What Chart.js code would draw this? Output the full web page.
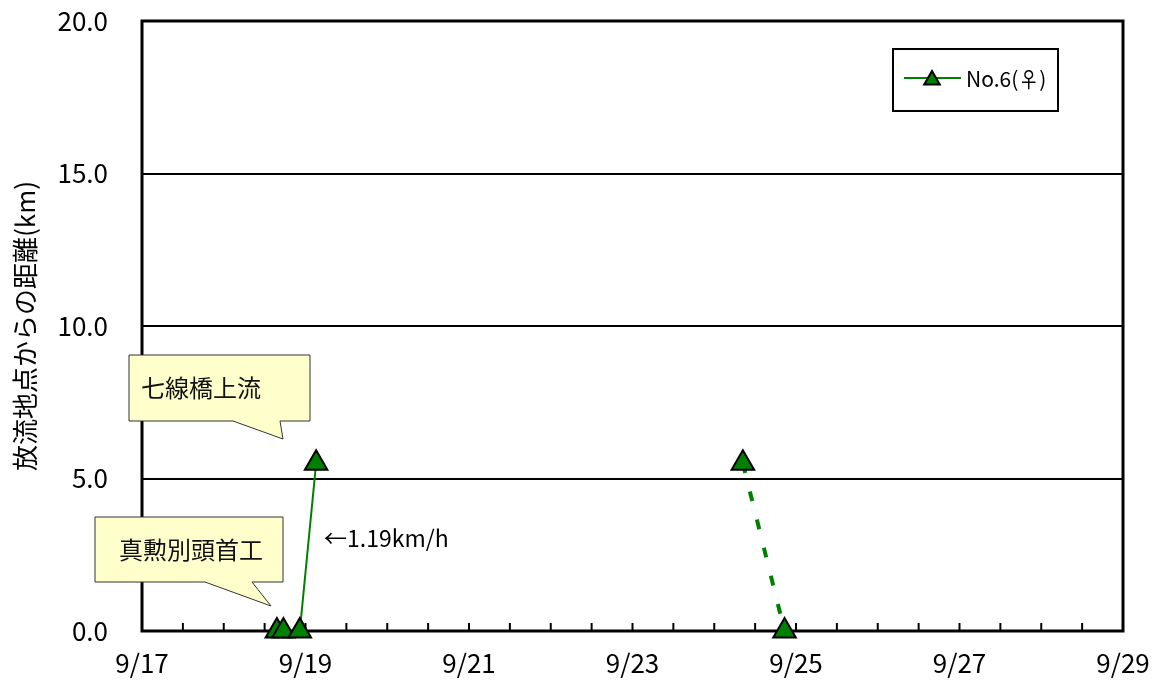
<!DOCTYPE html>
<html>
<head>
<meta charset="utf-8">
<script src="https://cdn.jsdelivr.net/npm/chart.js@4"></script>
<style>
    html, body { margin: 0; padding: 0; background: #fff; }
    #wrap { width: 1162px; height: 684px; }
</style>
</head>
<body>
<div id="wrap"><canvas id="chart" width="1162" height="684"></canvas></div>
<script>
// day of September (fractional) and distance from release point (km)
const seriesName = "No.6(♀)";
const trackDays = [18.65, 18.73, 18.93, 19.13];
const trackKm = [0, 0, 0, 5.5];
const lostDays = [24.35, 24.86];
const lostKm = [5.5, 0];
const labelDays = [17, 19, 21, 23, 25, 27, 29];
const yTicks = [0, 5, 10, 15, 20];

const GREEN = "#008000";
const JP = '"Noto Sans CJK JP", "Noto Sans", sans-serif';

const toPoints = (xs, ys) => xs.map((x, i) => ({ x, y: ys[i] }));

// frame + small inward ticks every half day
const framePlugin = {
    id: "frame",
    beforeDatasetsDraw(chart) {
        const { ctx, chartArea: a } = chart;
        const xs = chart.scales.x;
        ctx.save();
        ctx.strokeStyle = "#000";
        ctx.lineWidth = 2;
        xs.ticks.forEach(t => {
            const px = xs.getPixelForValue(t.value);
            ctx.beginPath();
            ctx.moveTo(px, a.bottom);
            ctx.lineTo(px, a.bottom - 8);
            ctx.stroke();
        });
        ctx.lineWidth = 3;
        ctx.strokeRect(a.left, a.top, a.right - a.left, a.bottom - a.top);
        ctx.restore();
    }
};

const callout = (ctx, box, base, tip, text) => {
    ctx.save();
    ctx.beginPath();
    ctx.moveTo(box.x, box.y);
    ctx.lineTo(box.x + box.w, box.y);
    ctx.lineTo(box.x + box.w, box.y + box.h);
    ctx.lineTo(base[1], box.y + box.h);
    ctx.lineTo(tip[0], tip[1]);
    ctx.lineTo(base[0], box.y + box.h);
    ctx.lineTo(box.x, box.y + box.h);
    ctx.closePath();
    ctx.fillStyle = "#ffffcc";
    ctx.fill();
    ctx.strokeStyle = "#333";
    ctx.lineWidth = 1;
    ctx.stroke();
    ctx.fillStyle = "#111";
    ctx.font = "24px " + JP;
    ctx.textBaseline = "middle";
    ctx.textAlign = "left";
    ctx.fillText(text.s, text.x, text.y);
    ctx.restore();
};

const notesPlugin = {
    id: "notes",
    afterDraw(chart) {
        const { ctx } = chart;
        callout(ctx, { x: 129, y: 355, w: 181, h: 66 }, [233, 280], [283, 439],
            { s: "七線橋上流", x: 141, y: 388 });
        callout(ctx, { x: 95, y: 517, w: 188, h: 65 }, [205, 252], [271, 606],
            { s: "真勲別頭首工", x: 119, y: 550 });

        ctx.save();
        ctx.fillStyle = "#000";
        ctx.font = "23px " + JP;
        ctx.textBaseline = "middle";
        ctx.fillText("←1.19km/h", 324, 538);

        // legend box
        ctx.fillStyle = "#fff";
        ctx.fillRect(893, 49, 165, 62);
        ctx.strokeStyle = "#000";
        ctx.lineWidth = 2;
        ctx.strokeRect(893, 49, 165, 62);
        ctx.strokeStyle = GREEN;
        ctx.lineWidth = 2;
        ctx.beginPath();
        ctx.moveTo(904, 78);
        ctx.lineTo(961, 78);
        ctx.stroke();
        const r = 9, cx = 932, cy = 80;
        ctx.beginPath();
        ctx.moveTo(cx, cy - r);
        ctx.lineTo(cx + r * 0.866, cy + r / 2);
        ctx.lineTo(cx - r * 0.866, cy + r / 2);
        ctx.closePath();
        ctx.fillStyle = GREEN;
        ctx.fill();
        ctx.strokeStyle = "#000";
        ctx.lineWidth = 2;
        ctx.stroke();
        ctx.fillStyle = "#000";
        ctx.font = "21px " + JP;
        ctx.fillText(seriesName, 966, 79);
        ctx.restore();
    }
};

const pointStyle = {
    pointStyle: "triangle",
    pointRadius: 13,
    pointHoverRadius: 13,
    pointBackgroundColor: GREEN,
    pointBorderColor: "#000",
    pointBorderWidth: 2,
    borderColor: GREEN,
    clip: false,
};

new Chart(document.getElementById("chart"), {
    type: "line",
    data: {
        datasets: [
            { label: seriesName, data: toPoints(trackDays, trackKm), borderWidth: 2, ...pointStyle },
            { label: seriesName + " lost", data: toPoints(lostDays, lostKm), borderWidth: 4, borderDash: [10, 19], ...pointStyle },
        ],
    },
    options: {
        responsive: false,
        animation: false,
        layout: { autoPadding: false, padding: { left: 0, right: 39, top: 21, bottom: 0 } },
        plugins: { legend: { display: false }, tooltip: { enabled: false } },
        scales: {
            x: {
                type: "linear",
                min: 17,
                max: 29,
                afterFit: s => { s.height = 53; s.paddingLeft = 30; s.paddingRight = 30; },
                grid: { display: false, drawTicks: false },
                border: { display: false },
                ticks: {
                    stepSize: 0.5,
                    autoSkip: false,
                    maxRotation: 0,
                    padding: 17,
                    color: "#000",
                    font: { family: JP, size: 26 },
                    callback: v => labelDays.includes(v) ? "9/" + v : "",
                },
            },
            y: {
                min: 0,
                max: 20,
                afterFit: s => { s.width = 142; s.paddingTop = 16; s.paddingBottom = 16; },
                afterBuildTicks: s => { s.ticks = yTicks.map(value => ({ value })); },
                grid: { color: "#000", lineWidth: 2, drawTicks: false },
                border: { display: false },
                ticks: {
                    padding: 34,
                    color: "#000",
                    font: { family: JP, size: 26 },
                    callback: v => v.toFixed(1),
                },
                title: {
                    display: true,
                    text: "放流地点からの距離(km)",
                    color: "#000",
                    font: { family: JP, size: 26 },
                    padding: { top: 10, bottom: 0 },
                },
            },
        },
    },
    plugins: [framePlugin, notesPlugin],
});
</script>
</body>
</html>
